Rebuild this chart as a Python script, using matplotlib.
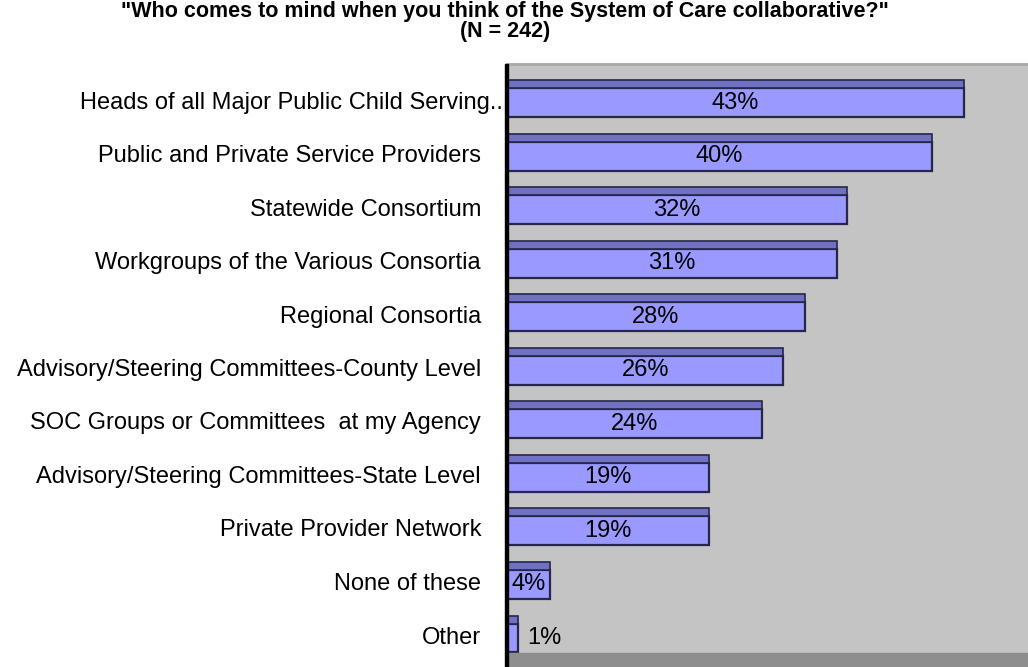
import matplotlib
matplotlib.use('Agg')
import matplotlib.pyplot as plt
from matplotlib.patches import Rectangle

plt.rcParams['font.family'] = ['Liberation Sans', 'DejaVu Sans']

title = '"Who comes to mind when you think of the System of Care collaborative?"\n(N = 242)'
categories = [
    'Heads of all Major Public Child Serving..',
    'Public and Private Service Providers',
    'Statewide Consortium',
    'Workgroups of the Various Consortia',
    'Regional Consortia',
    'Advisory/Steering Committees-County Level',
    'SOC Groups or Committees  at my Agency',
    'Advisory/Steering Committees-State Level',
    'Private Provider Network',
    'None of these',
    'Other',
]
values = [43, 40, 32, 31, 28, 26, 24, 19, 19, 4, 1]

W, H = 1028, 667
FACE = '#9999ff'
TOP = '#7171c4'
EDGE = '#26264a'
WALL = '#c4c4c4'
FS = 17

fig = plt.figure(figsize=(W / 100, H / 100), dpi=100)
ax_l, ax_r, ax_t, ax_b = 507, 1028, 64, 653
ax = fig.add_axes([ax_l / W, 1 - ax_b / H, (ax_r - ax_l) / W, (ax_b - ax_t) / H])
ax.set_facecolor(WALL)

# floor under the plot and the dark left wall edge
fig.patches.append(Rectangle((ax_l / W, 0), (W - ax_l) / W, (H - ax_b) / H,
                             transform=fig.transFigure, color='#8e8e8e', zorder=0))
fig.patches.append(Rectangle((505 / W, 0), 2.5 / W, 1 - ax_t / H,
                             transform=fig.transFigure, color='black', zorder=5))

face_h = 0.54
top_h = 0.15
ypos = list(range(len(values)))
ax.barh(ypos, values, height=face_h, color=FACE, edgecolor=EDGE, linewidth=1.6, zorder=3)
ax.barh([y - face_h / 2 - top_h / 2 for y in ypos], values, height=top_h,
        color=TOP, edgecolor=EDGE, linewidth=1.2, zorder=3)

ax.set_xlim(0, 49)
ax.set_ylim(10.28, -0.72)

for y, v in zip(ypos, values):
    if v >= 3:
        ax.text(v / 2, y, f'{v}%', ha='center', va='center', fontsize=FS, zorder=4)
    else:
        ax.text(v + 0.9, y, f'{v}%', ha='left', va='center', fontsize=FS, zorder=4)

ax.set_xticks([])
ax.set_yticks([])
for side in ['left', 'right', 'bottom']:
    ax.spines[side].set_visible(False)
ax.spines['top'].set_color('#a8a8a8')
ax.spines['top'].set_linewidth(2)

# category labels, right aligned just left of the wall
for i, (y, c) in enumerate(zip(ypos, categories)):
    x = 503 if i == 0 else 481
    fig.text(x / W, 1 - (102.5 + 53.5 * y) / H, c, ha='right', va='center', fontsize=FS)

fig.text(505 / W, 1 - 1 / H, title, ha='center', va='top', multialignment='center',
         fontsize=15.5, fontweight='bold', linespacing=0.92)

fig.savefig('out.png', dpi=100)
